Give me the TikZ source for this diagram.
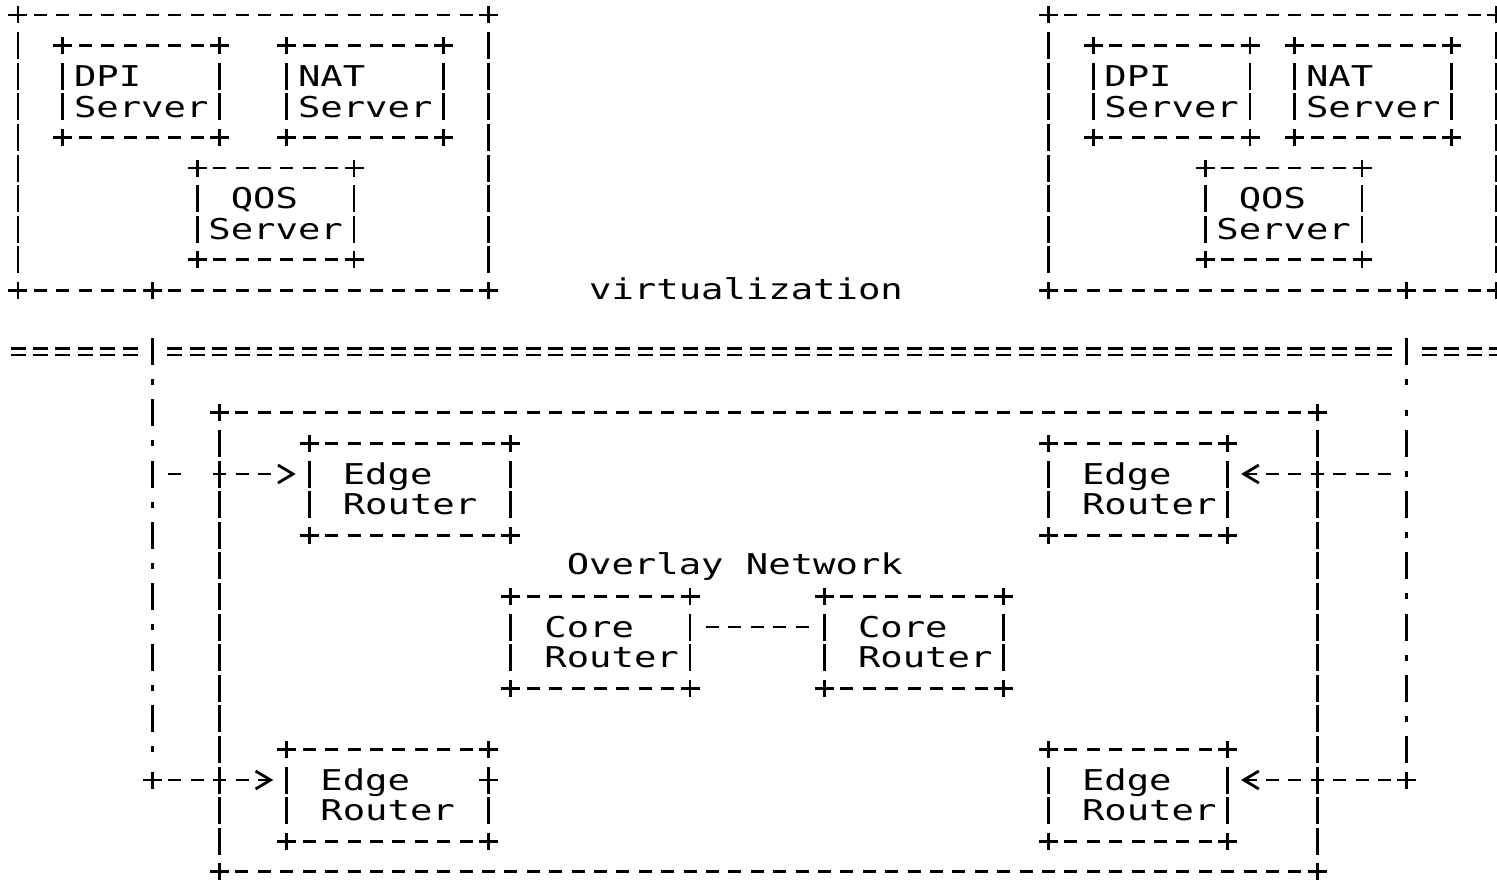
\documentclass[tikz,border=0pt]{standalone}
\usepackage{fontspec}
\newfontfamily\asciifont[FakeStretch=1.3,HyphenChar=None]{DejaVu Sans Mono}
\usetikzlibrary{arrows.meta}

\tikzset{
  every node/.style={font=\asciifont\fontsize{16.29pt}{17.41pt}\selectfont},
  frame/.style={rectangle, inner sep=0pt, outer sep=0pt},
  srv/.style={rectangle, inner xsep=0.224cm, inner ysep=0pt, outer sep=0pt, text width=2.688cm,
    minimum height=1.836cm, align=left, text height=0pt, text depth=5.6pt},
  rbox/.style={rectangle, inner xsep=0.672cm, inner ysep=0pt, outer sep=0pt, text width=#1,
    minimum height=1.836cm, align=left, text height=0pt, text depth=5.6pt},
  rbox/.default=2.24cm,
  hdash/.style={dash pattern=on 0.26cm off 0.188cm, dash phase=0.354cm, shorten <=0.224cm, shorten >=0.224cm},
  vdash/.style={dash pattern=on 0.539cm off 0.073cm, dash phase=0.575cm, shorten <=0.306cm, shorten >=0.306cm},
  gapdash/.style={dash pattern=on 0.26cm off 0.636cm on 0.26cm off 0.188cm on 0.26cm off 0.188cm on 0.26cm off 2cm,
    dash phase=3.958cm, shorten <=0.224cm},
  layer/.style={double, double distance=2.3pt, dash pattern=on 0.3cm off 0.148cm, dash phase=0.374cm},
  dotsL/.style={dash pattern=on 0.539cm off 0.2825cm on 0.12cm off 0.2825cm},
  dotsR/.style={dash pattern=on 0.539cm off 0.2825cm on 0.12cm off 0.492cm on 0.12cm off 0.2825cm
    on 0.539cm off 0.2825cm on 0.12cm off 0.2825cm on 0.539cm off 0.2825cm on 0.12cm off 0.2825cm
    on 0.539cm off 0.2825cm on 0.12cm off 0.2825cm on 0.539cm off 0.2825cm on 0.12cm off 0.2825cm
    on 0.539cm off 0.2825cm on 0.12cm off 0.2825cm on 0.539cm off 2cm}
}

% '+' at a corner or a junction
\newcommand{\plusmark}[1]{\draw ([xshift=-0.19cm]#1) -- ([xshift=0.19cm]#1) ([yshift=-0.17cm]#1) -- ([yshift=0.17cm]#1);}
% box outline made of '-', '|' and '+'
\newcommand{\asciibox}[1]{%
  \draw[hdash] (#1.north west) -- (#1.north east);
  \draw[hdash] (#1.south west) -- (#1.south east);
  \draw[vdash] (#1.north west) -- (#1.south west);
  \draw[vdash] (#1.north east) -- (#1.south east);
  \foreach \corner in {north west,north east,south west,south east} {\plusmark{#1.\corner}}}

\begin{document}
\begin{tikzpicture}[x=0.448cm, y=-0.612cm, line width=1.6pt, >={Straight Barb[length=0.3cm,width=0.36cm]}]
\path[use as bounding box, fill=white] (-0.8036,-0.4902) rectangle (66.0268,28.2353);

% server side
\node (srvL) [frame, minimum width=9.408cm, minimum height=5.508cm] at (10.5,4.5) {};
\node (dpiL) [srv] at (5.5,2.5) {DPI\\Server};
\node (natL) [srv] at (15.5,2.5) {NAT\\Server};
\node (qosL) [srv] at (11.5,6.5) {\hspace*{0.448cm}QOS\\Server};
\node (srvR) [frame, minimum width=8.96cm, minimum height=5.508cm] at (56,4.5) {};
\node (dpiR) [srv] at (51.5,2.5) {DPI\\Server};
\node (natR) [srv] at (60.5,2.5) {NAT\\Server};
\node (qosR) [srv] at (56.5,6.5) {\hspace*{0.448cm}QOS\\Server};
\node (virt) [anchor=base] at (32.5,9.3) {virtualization};

% overlay side
\node (ovl) [frame, minimum width=21.952cm, minimum height=9.18cm] at (33.5,20.5) {};
\node (ovltxt) [anchor=base] at (32,18.3) {Overlay Network};
\node (edgeTL) [rbox=2.688cm] at (17.5,15.5) {Edge\\Router};
\node (edgeTR) [rbox] at (50,15.5) {Edge\\Router};
\node (edgeBL) [rbox=2.688cm] at (16.5,25.5) {Edge\\Router};
\node (edgeBR) [rbox] at (50,25.5) {Edge\\Router};
\node (coreL) [rbox] at (26,20.5) {Core\\Router};
\node (coreR) [rbox] at (40,20.5) {Core\\Router};

\coordinate (jL1) at (6,15);
\coordinate (jL2) at (6,25);
\coordinate (jR1) at (62,15);
\coordinate (jR2) at (62,25);
\coordinate (tapL) at (srvL.south west -| jL2);
\coordinate (tapR) at (srvR.south west -| jR2);
\coordinate (layW) at (-0.5,11);
\coordinate (layE) at (66.5,11);
\coordinate (bend) at ([yshift=-0.612cm]edgeBL.north east);

% outlines
\foreach \b in {srvL,dpiL,natL,qosL,srvR,dpiR,natR,qosR,ovl,edgeTL,edgeTR,edgeBL,edgeBR,coreL,coreR} {\asciibox{\b}}
\plusmark{tapL}
\plusmark{tapR}
\plusmark{jL2}
\plusmark{jR2}
\plusmark{bend}

% virtualization line
\draw[layer, shorten >=0.224cm] (layW) -- (layW -| tapL);
\draw[layer, shorten <=0.224cm, shorten >=0.224cm] (layW -| tapL) -- (layW -| tapR);
\draw[layer, shorten <=0.224cm] (layW -| tapR) -- (layE);

% links
\draw[dotsL, shorten <=0.955cm, shorten >=0.306cm] (tapL) -- (jL2);
\draw[dotsR, shorten <=0.955cm, shorten >=0.306cm] (tapR) -- (jR2);
\draw[gapdash, ->, shorten >=0.27cm] (jL1) -- (jL1 -| edgeTL.west);
\draw[hdash, ->, shorten >=0.27cm] (jL2) -- (jL2 -| edgeBL.west);
\draw[hdash, ->, shorten >=0.27cm] (jR1) -- (jR1 -| edgeTR.east);
\draw[hdash, ->, shorten >=0.27cm] (jR2) -- (jR2 -| edgeBR.east);
\draw[hdash] ([yshift=-0.612cm]coreL.north east) -- ([yshift=-0.612cm]coreR.north west);
\end{tikzpicture}
\end{document}
